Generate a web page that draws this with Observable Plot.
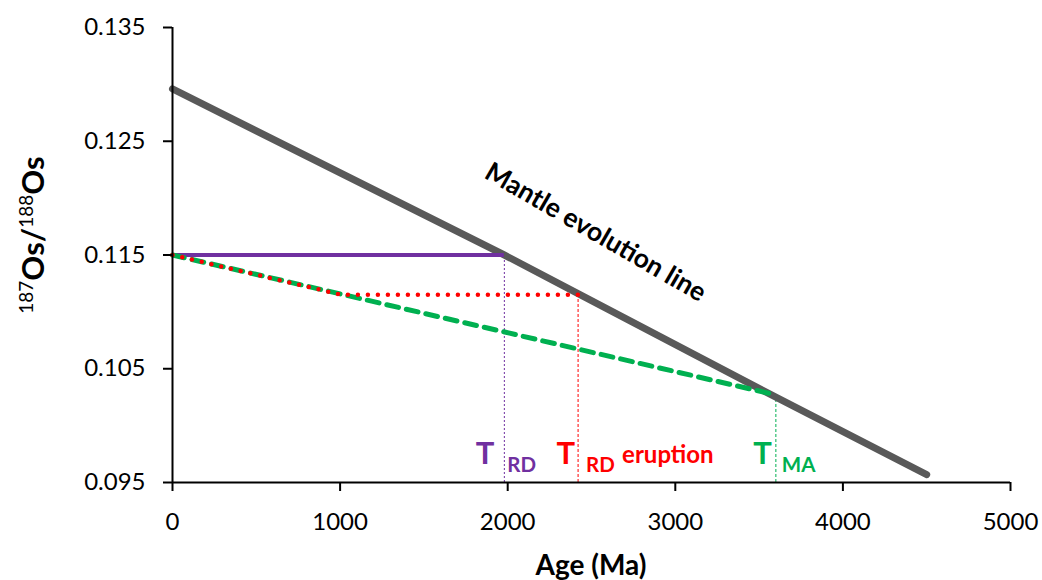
<!DOCTYPE html>
<html>
<head>
<meta charset="utf-8">
<script src="https://cdn.jsdelivr.net/npm/d3@7"></script>
<script src="https://cdn.jsdelivr.net/npm/@observablehq/plot@0.6"></script>
<style>
  html, body { margin: 0; padding: 0; background: #fff; }
  #chart { width: 1042px; height: 580px; }
</style>
</head>
<body>
<div id="chart"></div>
<script>
// ---- data ----
const xTicks = [0, 1000, 2000, 3000, 4000, 5000];
const yTicks = [0.095, 0.105, 0.115, 0.125, 0.135];

// Mantle evolution line (Age Ma, 187Os/188Os)
const mantleAge = [0, 1980, 2420, 3600, 4500];
const mantleOs  = [0.1296, 0.1150, 0.1116, 0.1025, 0.0957];

// Sample initial ratio
const sampleOs = 0.115;

// Model ages
const tRD = 1980;          // T_RD
const tRDeruption = 2420;  // T_RD eruption
const tMA = 3600;          // T_MA

// Eruption-corrected ratio path (red dotted)
const eruptAge = [0, 1010, 2420];
const eruptOs  = [0.115, 0.1115, 0.1115];

// Re-Os model age path (green dashed)
const maAge = [0, 3600];
const maOs  = [0.115, 0.1027];

const lineLabel = "Mantle evolution line";
const labelPos = {age: 2524, os: 0.11698};

const purple = "#7030A0", red = "#FF0000", green = "#00B050", gray = "#595959";

const mantle = mantleAge.map((a, i) => ({age: a, os: mantleOs[i]}));
const erupt = eruptAge.map((a, i) => ({age: a, os: eruptOs[i]}));
const ma = maAge.map((a, i) => ({age: a, os: maOs[i]}));

const font = "Lato, 'Open Sans', sans-serif";

const plot = Plot.plot({
  width: 1042,
  height: 580,
  marginLeft: 172,
  marginRight: 32,
  marginTop: 27,
  marginBottom: 98,
  style: {fontFamily: font, color: "#000", background: "#fff"},
  x: {domain: [0, 5000]},
  y: {domain: [0.095, 0.135]},
  marks: [
    // thin vertical guides
    Plot.ruleX([tRD], {y1: 0.095, y2: sampleOs, stroke: purple, strokeWidth: 1, strokeDasharray: "2 2"}),
    Plot.ruleX([tRDeruption], {y1: 0.095, y2: eruptOs[2], stroke: red, strokeWidth: 1, strokeDasharray: "3 2"}),
    Plot.ruleX([tMA], {y1: 0.095, y2: maOs[1], stroke: green, strokeWidth: 1, strokeDasharray: "3 2"}),
    // mantle line
    Plot.line(mantle, {x: "age", y: "os", stroke: gray, strokeWidth: 7, strokeLinecap: "round"}),
    // purple T_RD horizontal
    Plot.ruleY([sampleOs], {x1: 0, x2: tRD, stroke: purple, strokeWidth: 4}),
    // green dashed
    Plot.line(ma, {x: "age", y: "os", stroke: green, strokeWidth: 5, strokeDasharray: "12 8"}),
    // red dotted
    Plot.line(erupt, {x: "age", y: "os", stroke: red, strokeWidth: 4.5, strokeDasharray: "0 10", strokeLinecap: "round"}),
    // axes
    Plot.axisX({ticks: xTicks, tickSize: 9, tickPadding: 21, fontSize: 24, tickFormat: d => String(d), label: null, strokeWidth: 2}),
    Plot.axisY({ticks: yTicks, tickSize: 9, tickPadding: 18, fontSize: 24, tickFormat: d3.format(".3f"), label: null, strokeWidth: 2}),
    Plot.ruleY([0.095], {stroke: "#000", strokeWidth: 2}),
    Plot.ruleX([0], {stroke: "#000", strokeWidth: 2}),
    // mantle label
    Plot.text([labelPos], {x: "age", y: "os", text: () => lineLabel, rotate: 30, fontSize: 26.5, fontWeight: "bold", fill: "#000"}),
    // T labels
    Plot.text([tRD], {x: d => d, frameAnchor: "bottom", lineAnchor: "bottom", text: () => "T", textAnchor: "end", dx: -10, dy: -19, fontSize: 31, fontWeight: "bold", fill: purple}),
    Plot.text([tRD], {x: d => d, frameAnchor: "bottom", lineAnchor: "bottom", text: () => "RD", textAnchor: "start", dx: 3, dy: -11, fontSize: 20.5, fontWeight: "bold", fill: purple}),
    Plot.text([tRDeruption], {x: d => d, frameAnchor: "bottom", lineAnchor: "bottom", text: () => "T", textAnchor: "end", dx: -3, dy: -19, fontSize: 31, fontWeight: "bold", fill: red}),
    Plot.text([tRDeruption], {x: d => d, frameAnchor: "bottom", lineAnchor: "bottom", text: () => "RD", textAnchor: "start", dx: 8, dy: -11, fontSize: 20.5, fontWeight: "bold", fill: red}),
    Plot.text([tRDeruption], {x: d => d, frameAnchor: "bottom", lineAnchor: "bottom", text: () => "eruption", textAnchor: "start", dx: 44, dy: -20, fontSize: 24, fontWeight: "bold", fill: red}),
    Plot.text([tMA], {x: d => d, frameAnchor: "bottom", lineAnchor: "bottom", text: () => "T", textAnchor: "end", dx: -4, dy: -19, fontSize: 31, fontWeight: "bold", fill: green}),
    Plot.text([tMA], {x: d => d, frameAnchor: "bottom", lineAnchor: "bottom", text: () => "MA", textAnchor: "start", dx: 6, dy: -11, fontSize: 20.5, fontWeight: "bold", fill: green})
  ]
});

document.getElementById("chart").appendChild(plot);

// Axis titles with super-scripts
const svg = d3.select(plot);
svg.append("text")
  .attr("x", 591).attr("y", 575)
  .attr("text-anchor", "middle")
  .attr("font-family", font).attr("font-size", 28).attr("font-weight", "bold").attr("fill", "#000")
  .text("Age (Ma)");

const yt = svg.append("text")
  .attr("transform", "translate(44,235) rotate(-90)")
  .attr("text-anchor", "middle")
  .attr("font-family", font).attr("font-size", 31).attr("font-weight", "bold").attr("fill", "#000");
yt.append("tspan").attr("font-size", 19).attr("font-weight", "normal").attr("dy", -11).text("187");
yt.append("tspan").attr("dy", 11).text("Os/");
yt.append("tspan").attr("font-size", 19).attr("font-weight", "normal").attr("dy", -11).text("188");
yt.append("tspan").attr("dy", 11).text("Os");
</script>
</body>
</html>
